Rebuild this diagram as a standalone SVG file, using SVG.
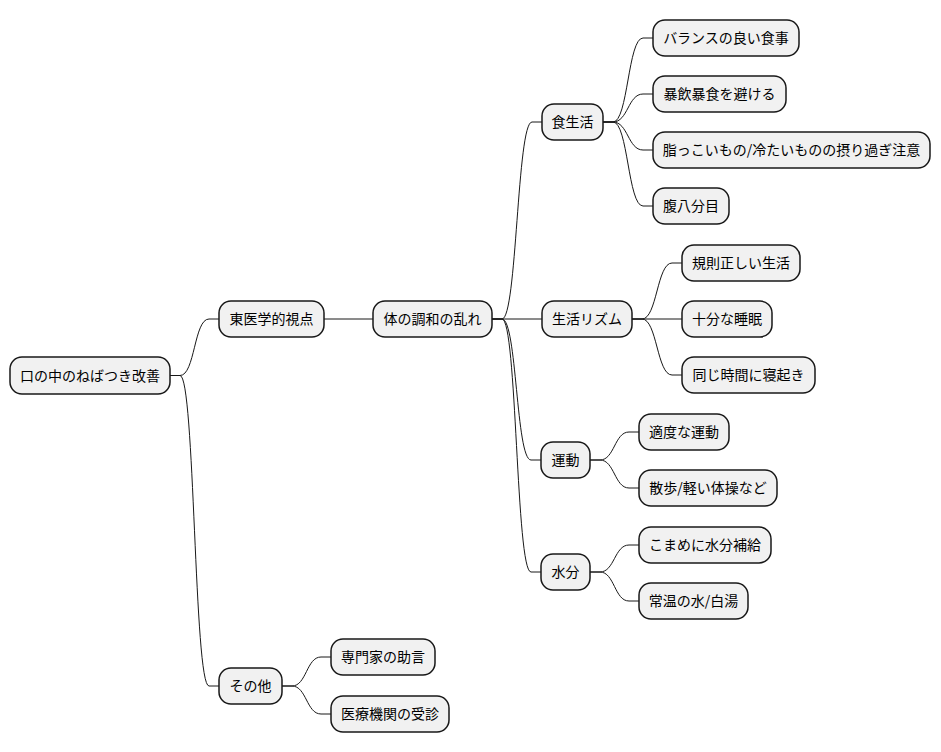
<svg xmlns="http://www.w3.org/2000/svg" width="941" height="752" viewBox="0 0 941 752">
<style>
.n rect{fill:#F1F1F1;stroke:#181818;stroke-width:1.5}
.n text{font-family:"Noto Sans CJK JP","Noto Sans",sans-serif;font-size:14px;fill:#000;text-anchor:middle}
.c path{fill:none;stroke:#181818;stroke-width:1}
</style>
<rect width="941" height="752" fill="#fff"/>
<g class="c">
<path d="M170,375.5 L180,375.5 C195,375.5 194,319 209,319 L219,319"/>
<path d="M170,375.5 L180,375.5 C195,375.5 194,686 209,686 L219,686"/>
<path d="M324,319 L373,319"/>
<path d="M492,319 L502,319 C517,319 517,122 532,122 L542,122"/>
<path d="M492,319 L542,319"/>
<path d="M492,319 L502,319 C517,319 516,460 531,460 L541,460"/>
<path d="M492,319 L502,319 C517,319 516,572 531,572 L541,572"/>
<path d="M603,122 L613,122 C628,122 628,38 643,38 L653,38"/>
<path d="M603,122 L613,122 C628,122 628,94 643,94 L653,94"/>
<path d="M603,122 L613,122 C628,122 628,150 643,150 L653,150"/>
<path d="M603,122 L613,122 C628,122 628,206 643,206 L653,206"/>
<path d="M632,319 L642,319 C657,319 657,263 672,263 L682,263"/>
<path d="M632,319 L682,319"/>
<path d="M632,319 L642,319 C657,319 657,375 672,375 L682,375"/>
<path d="M590,460 L600,460 C614.5,460 614.5,432 629,432 L639,432"/>
<path d="M590,460 L600,460 C614.5,460 614.5,488 629,488 L639,488"/>
<path d="M590,572 L600,572 C614.5,572 614.5,545 629,545 L639,545"/>
<path d="M590,572 L600,572 C614.5,572 614.5,601 629,601 L639,601"/>
<path d="M282,686 L292,686 C306.5,686 306.5,657 321,657 L331,657"/>
<path d="M282,686 L292,686 C306.5,686 306.5,714 321,714 L331,714"/>
</g>
<g id="root" class="n"><rect x="10" y="357" width="160" height="37" rx="12"/><text x="90" y="380.5">口の中のねばつき改善</text></g>
<g id="n1" class="n"><rect x="219" y="301" width="105" height="36" rx="12"/><text x="271.5" y="324">東医学的視点</text></g>
<g id="n2" class="n"><rect x="373" y="301" width="119" height="36" rx="12"/><text x="432.5" y="324">体の調和の乱れ</text></g>
<g id="n3" class="n"><rect x="542" y="104" width="61" height="36" rx="12"/><text x="572.5" y="127">食生活</text></g>
<g id="n4" class="n"><rect x="653" y="20" width="146" height="36" rx="12"/><text x="726" y="43">バランスの良い食事</text></g>
<g id="n5" class="n"><rect x="653" y="76" width="133" height="36" rx="12"/><text x="719.5" y="99">暴飲暴食を避ける</text></g>
<g id="n6" class="n"><rect x="653" y="132" width="277" height="36" rx="12"/><text x="791.5" y="155">脂っこいもの/冷たいものの摂り過ぎ注意</text></g>
<g id="n7" class="n"><rect x="653" y="188" width="76" height="36" rx="12"/><text x="691" y="211">腹八分目</text></g>
<g id="n8" class="n"><rect x="542" y="301" width="90" height="36" rx="12"/><text x="587" y="324">生活リズム</text></g>
<g id="n9" class="n"><rect x="682" y="245" width="118" height="36" rx="12"/><text x="741" y="268">規則正しい生活</text></g>
<g id="n10" class="n"><rect x="682" y="301" width="90" height="36" rx="12"/><text x="727" y="324">十分な睡眠</text></g>
<g id="n11" class="n"><rect x="682" y="357" width="133" height="36" rx="12"/><text x="748.5" y="380">同じ時間に寝起き</text></g>
<g id="n12" class="n"><rect x="541" y="442" width="49" height="36" rx="12"/><text x="565.5" y="465">運動</text></g>
<g id="n13" class="n"><rect x="639" y="414" width="90" height="36" rx="12"/><text x="684" y="437">適度な運動</text></g>
<g id="n14" class="n"><rect x="639" y="470" width="138" height="36" rx="12"/><text x="708" y="493">散歩/軽い体操など</text></g>
<g id="n15" class="n"><rect x="541" y="554" width="49" height="36" rx="12"/><text x="565.5" y="577">水分</text></g>
<g id="n16" class="n"><rect x="639" y="527" width="132" height="36" rx="12"/><text x="705" y="550">こまめに水分補給</text></g>
<g id="n17" class="n"><rect x="639" y="583" width="109" height="36" rx="12"/><text x="693.5" y="606">常温の水/白湯</text></g>
<g id="n18" class="n"><rect x="219" y="668" width="63" height="36" rx="12"/><text x="250.5" y="691">その他</text></g>
<g id="n19" class="n"><rect x="331" y="639" width="104" height="36" rx="12"/><text x="383" y="662">専門家の助言</text></g>
<g id="n20" class="n"><rect x="331" y="696" width="118" height="36" rx="12"/><text x="390" y="719">医療機関の受診</text></g>
</svg>
